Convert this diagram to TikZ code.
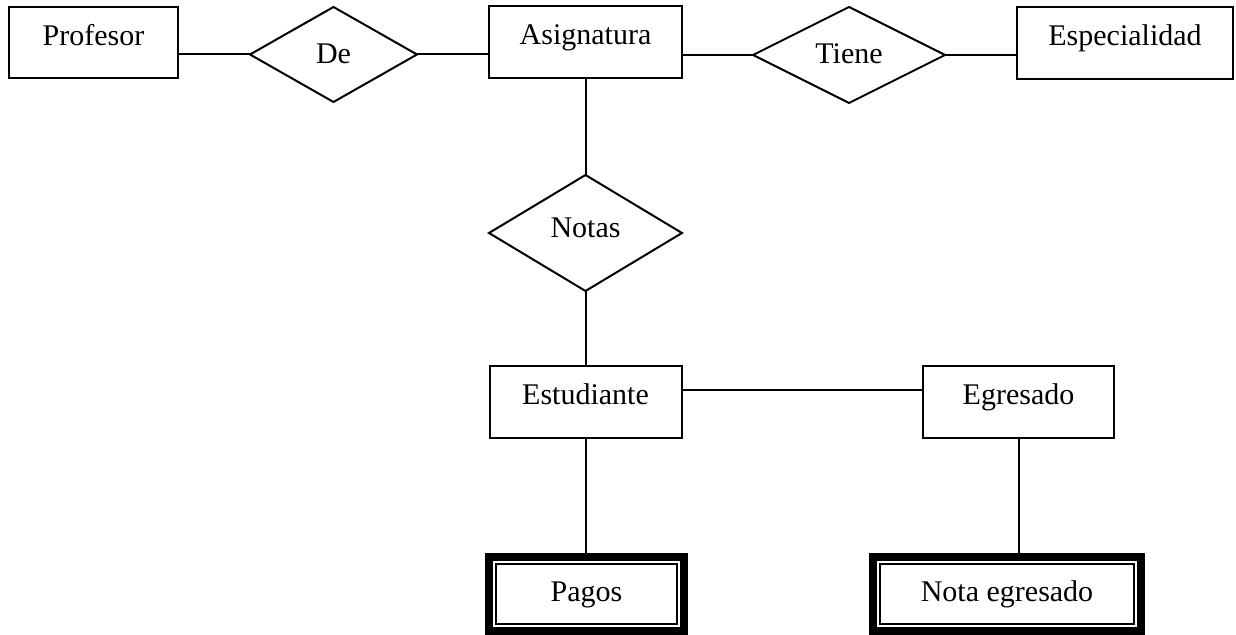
\documentclass[tikz,border=0pt]{standalone}
\usepackage{fontspec}
\setmainfont{Liberation Serif}
\usepackage{tikz}
\usetikzlibrary{calc}
\usetikzlibrary{shapes.geometric}
\usetikzlibrary{fit}

\begin{document}
\begin{tikzpicture}[x=0.5pt,y=-0.5pt,
    entidad/.style={draw, line width=1pt, rectangle, outer sep=0pt, inner sep=0pt,
                    text height=0.7em, text depth=0.5em},
    relacion/.style={draw, line width=1pt, diamond, outer sep=0pt, inner sep=0pt,
                     text height=0.7em, text depth=0.1em},
    debil/.style={draw, line width=1pt, rectangle, outer sep=0pt, inner sep=0pt,
                  text height=0.7em, text depth=0.2em},
    marco/.style={draw, line width=4pt, rectangle, inner sep=3.5pt, outer sep=2pt},
    enlace/.style={line width=1pt}]
                        \useasboundingbox (0,0) rectangle (1236,635);
                        {\fontsize{15}{18}\selectfont

                        % Entity Profesor
                        \node [entidad, minimum width=84.5pt, minimum height=35.5pt] (prof) at (93.5,42.5) {Profesor};%

                        % Relation De
                        \node [relacion, minimum width=83.5pt, minimum height=47.5pt] (de) at (333.5,54.5) {De};%

                        % Entity Asignatura
                        \node [entidad, minimum width=96.5pt, minimum height=36pt] (asig) at (585.5,42) {Asignatura};%

                        % Relation Tiene
                        \node [relacion, minimum width=96pt, minimum height=48pt] (tiene) at (849,55) {Tiene};%

                        % Entity Especialidad
                        \node [entidad, minimum width=108pt, minimum height=36pt] (esp) at (1125,43) {Especialidad};%

                        % Relation Notas
                        \node [relacion, minimum width=96.5pt, minimum height=58pt, text depth=0.4em] (notas) at (585.5,233) {Notas};%

                        % Entity Estudiante
                        \node [entidad, minimum width=96pt, minimum height=36pt] (est) at (585.5,402) {Estudiante};%

                        % Entity Egresado
                        \node [entidad, minimum width=95.5pt, minimum height=36pt] (egr) at (1018.5,402) {Egresado};%

                        % Weak entity Pagos
                        \node [debil, minimum width=90.5pt, minimum height=30pt] (pagos) at (586.5,594) {Pagos};%
                        \node [marco, fit=(pagos)] (pagosm) {};%

                        % Weak entity Nota egresado
                        \node [debil, minimum width=127pt, minimum height=30pt] (notaeg) at (1007,594) {Nota egresado};%
                        \node [marco, fit=(notaeg)] (notaegm) {};%

                        % Drawing segment Profesor De
                        \draw [enlace] (de.west -| prof.east) -- (de.west);%

                        % Drawing segment De Asignatura
                        \draw [enlace] (de.east) -- (de.east -| asig.west);%

                        % Drawing segment Asignatura Tiene
                        \draw [enlace] (tiene.west -| asig.east) -- (tiene.west);%

                        % Drawing segment Tiene Especialidad
                        \draw [enlace] (tiene.east) -- (tiene.east -| esp.west);%

                        % Drawing segment Asignatura Notas
                        \draw [enlace] (asig.south) -- (notas.north);%

                        % Drawing segment Notas Estudiante
                        \draw [enlace] (notas.south) -- (est.north);%

                        % Drawing segment Estudiante Egresado
                        \draw [enlace] ($(est.east)+(0,-12)$) -- ($(egr.west)+(0,-12)$);%

                        % Drawing segment Estudiante Pagos
                        \draw [enlace] (est.south) -- (est.south |- pagosm.north);%

                        % Drawing segment Egresado Nota egresado
                        \draw [enlace] (egr.south) -- (egr.south |- notaegm.north);%
                        }
\end{tikzpicture}
\end{document}
